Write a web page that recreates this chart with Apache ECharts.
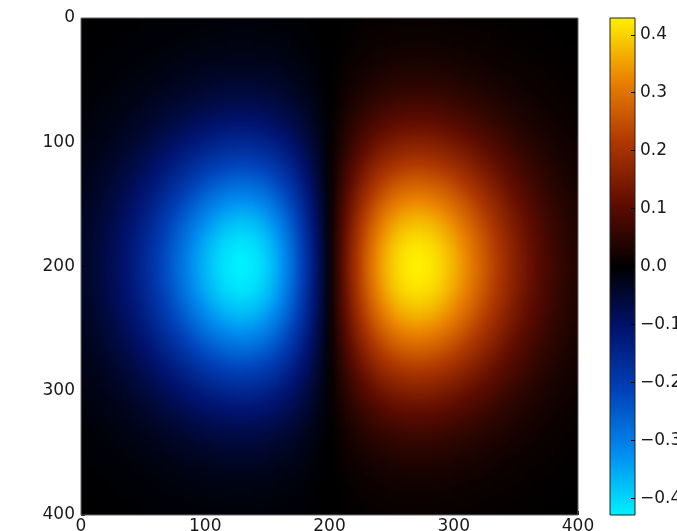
<!DOCTYPE html>
<html>
<head>
<meta charset="utf-8">
<script src="https://cdn.jsdelivr.net/npm/echarts@6/dist/echarts.min.js"></script>
<style>
  html, body { margin: 0; padding: 0; background: #fff; }
  #wrap { position: relative; width: 677px; height: 531px; }
  /* the field is drawn one cell per pixel and the browser smooths it when scaling up */
  #field { position: absolute; left: 81px; top: 18px; width: 80px; height: 80px;
           transform: scale(6.2125); transform-origin: 0 0; }
  #chart { position: absolute; left: 0; top: 0; width: 677px; height: 531px; }
</style>
</head>
<body>
<div id="wrap">
  <div id="field"></div>
  <div id="chart"></div>
</div>
<script>
// value along the row through both blobs (y = 200), one cell per 5 data units, x = 2.5 ... 397.5
var rowProfile = [
  -0.040, -0.047, -0.056, -0.065, -0.076, -0.088, -0.101, -0.116, -0.132, -0.149,
  -0.167, -0.187, -0.208, -0.229, -0.251, -0.273, -0.295, -0.317, -0.338, -0.358,
  -0.377, -0.393, -0.407, -0.418, -0.425, -0.429, -0.428, -0.423, -0.413, -0.399,
  -0.379, -0.355, -0.326, -0.292, -0.255, -0.214, -0.170, -0.123, -0.075, -0.025,
  0.025, 0.075, 0.123, 0.170, 0.214, 0.255, 0.292, 0.326, 0.355, 0.379,
  0.399, 0.413, 0.423, 0.428, 0.429, 0.425, 0.418, 0.407, 0.393, 0.377,
  0.358, 0.338, 0.317, 0.295, 0.273, 0.251, 0.229, 0.208, 0.187, 0.167,
  0.149, 0.132, 0.116, 0.101, 0.088, 0.076, 0.065, 0.056, 0.047, 0.040
];
// how the field fades going up / down from that row, y = 2.5 ... 397.5 (top to bottom)
var colFalloff = [
  0.020, 0.025, 0.030, 0.036, 0.043, 0.051, 0.060, 0.071, 0.084, 0.098,
  0.114, 0.131, 0.151, 0.173, 0.197, 0.223, 0.251, 0.282, 0.315, 0.350,
  0.387, 0.425, 0.465, 0.506, 0.548, 0.591, 0.634, 0.677, 0.718, 0.759,
  0.798, 0.835, 0.869, 0.900, 0.927, 0.951, 0.970, 0.985, 0.994, 0.999,
  0.999, 0.994, 0.985, 0.970, 0.951, 0.927, 0.900, 0.869, 0.835, 0.798,
  0.759, 0.718, 0.677, 0.634, 0.591, 0.548, 0.506, 0.465, 0.425, 0.387,
  0.350, 0.315, 0.282, 0.251, 0.223, 0.197, 0.173, 0.151, 0.131, 0.114,
  0.098, 0.084, 0.071, 0.060, 0.051, 0.043, 0.036, 0.030, 0.025, 0.020
];
var cellSize = 5;
var barTicks = [-0.4, -0.3, -0.2, -0.1, 0.0, 0.1, 0.2, 0.3, 0.4];
var vMin = -0.429;
var vMax = 0.429;
// cyan -> blue -> black -> red -> yellow
var colorStops = [
  '#00f0ff', '#008cf0', '#0041b9', '#00126e', '#000000',
  '#5f0c00', '#af3700', '#eb8200', '#fff000'
];

// [x centre, y centre, value]
var cells = [];
for (var j = 0; j < colFalloff.length; j++) {
  for (var i = 0; i < rowProfile.length; i++) {
    cells.push([(i + 0.5) * cellSize, (j + 0.5) * cellSize, rowProfile[i] * colFalloff[j]]);
  }
}

// colour bar gradient, top = vMax
var barGradient = colorStops.map(function (c, k) {
  return { offset: 1 - k / (colorStops.length - 1), color: c };
});

function renderCell(params, api) {
  var x = api.value(0), y = api.value(1), h = cellSize / 2;
  var a = api.coord([x - h, y - h]);
  var b = api.coord([x + h, y + h]);
  var x0 = Math.round(Math.min(a[0], b[0])), x1 = Math.round(Math.max(a[0], b[0]));
  var y0 = Math.round(Math.min(a[1], b[1])), y1 = Math.round(Math.max(a[1], b[1]));
  return {
    type: 'rect',
    shape: { x: x0, y: y0, width: x1 - x0, height: y1 - y0 },
    style: { fill: api.visual('color') }
  };
}

// --- the image itself ---
var fieldChart = echarts.init(document.getElementById('field'), null, { devicePixelRatio: 1 });
fieldChart.setOption({
  animation: false,
  grid: { left: 0, top: 0, width: rowProfile.length, height: colFalloff.length, outerBoundsMode: 'none' },
  xAxis: { type: 'value', min: 0, max: 400, show: false },
  yAxis: { type: 'value', min: 0, max: 400, inverse: true, show: false },
  visualMap: {
    type: 'continuous', show: false, min: vMin, max: vMax, dimension: 2,
    inRange: { color: colorStops }
  },
  series: [{
    type: 'custom', data: cells, encode: { x: 0, y: 1 },
    progressive: 0, silent: true, renderItem: renderCell
  }]
});

// --- axes, frame and colour bar ---
var font = 'DejaVu Sans';
var labelStyle = { color: '#1a1a1a', fontFamily: font, fontSize: 17 };

var myChart = echarts.init(document.getElementById('chart'));
var option = {
  animation: false,
  backgroundColor: 'transparent',
  grid: [
    { left: 81, top: 18, width: 497, height: 497, show: true, z: 10, outerBoundsMode: 'none',
      backgroundColor: 'transparent', borderColor: '#666', borderWidth: 1 },
    { left: 610, top: 18, width: 25, height: 497, show: true, z: 10, outerBoundsMode: 'none',
      backgroundColor: 'transparent', borderColor: '#222', borderWidth: 1 }
  ],
  graphic: [
    { type: 'rect', z: -10, silent: true,
      shape: { x: 610, y: 18, width: 25, height: 497 },
      style: { fill: new echarts.graphic.LinearGradient(0, 0, 0, 1, barGradient) } }
  ],
  xAxis: [
    { type: 'value', gridIndex: 0, min: 0, max: 400, interval: 100, position: 'bottom',
      axisLine: { show: false, onZero: false },
      axisTick: { inside: true, length: 4, lineStyle: { color: '#000' } },
      axisLabel: Object.assign({ margin: 3 }, labelStyle),
      splitLine: { show: false } },
    { type: 'value', gridIndex: 1, min: 0, max: 1, show: false }
  ],
  yAxis: [
    { type: 'value', gridIndex: 0, min: 0, max: 400, interval: 100, inverse: true, position: 'left',
      axisLine: { show: false, onZero: false },
      axisTick: { inside: true, length: 4, lineStyle: { color: '#000' } },
      axisLabel: Object.assign({ margin: 6 }, labelStyle),
      splitLine: { show: false } },
    { type: 'value', gridIndex: 1, min: vMin, max: vMax, position: 'right', z: 20,
      axisLine: { show: false, onZero: false },
      axisTick: { inside: true, length: 4, customValues: barTicks, lineStyle: { color: '#000' } },
      axisLabel: Object.assign({
        margin: 5,
        customValues: barTicks,
        formatter: function (v) {
          return v < -1e-9 ? '\u2212' + Math.abs(v).toFixed(1) : Math.abs(v).toFixed(1);
        }
      }, labelStyle),
      splitLine: { show: false } }
  ],
  series: []
};
option && myChart.setOption(option);
</script>
</body>
</html>
